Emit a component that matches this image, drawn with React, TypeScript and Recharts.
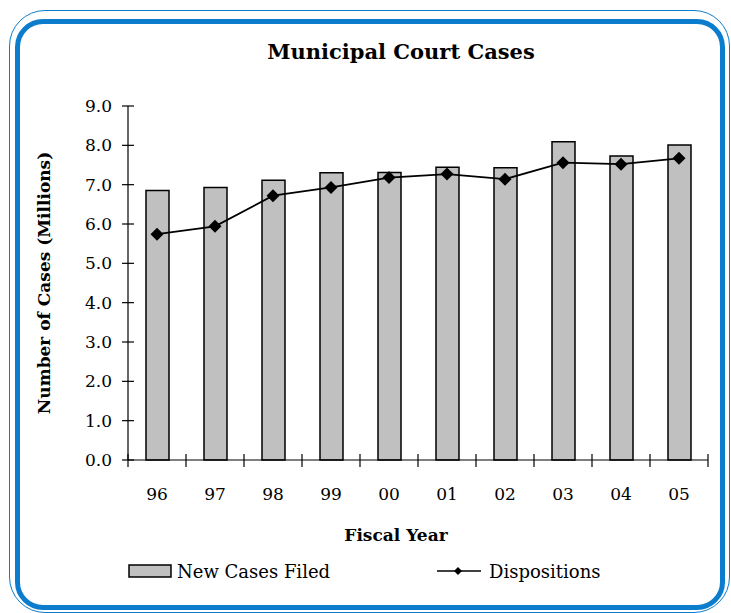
import { ComposedChart, Bar, Line, XAxis, YAxis, Label } from "recharts";

const years = ["96", "97", "98", "99", "00", "01", "02", "03", "04", "05"];
const newCasesFiled = [6.85, 6.93, 7.11, 7.3, 7.31, 7.44, 7.43, 8.09, 7.73, 8.01];
const dispositions = [5.74, 5.94, 6.72, 6.93, 7.18, 7.27, 7.14, 7.56, 7.52, 7.67];
const yTicks = [0, 1, 2, 3, 4, 5, 6, 7, 8, 9];

const data = years.map((year, i) => ({
  year,
  filed: newCasesFiled[i],
  disp: dispositions[i],
}));

const FONT = "'DejaVu Serif', 'Liberation Serif', serif";
const BLUE = "#0b7dcc";

function Diamond(props: any) {
  const { cx, cy } = props;
  if (cx == null || cy == null) return null;
  const r = 6.5;
  return (
    <polygon
      points={`${cx},${cy - r} ${cx + r},${cy} ${cx},${cy + r} ${cx - r},${cy}`}
      fill="#000"
    />
  );
}

// category labels sit in the band, tick marks go on the band edges
function YearTick(props: any) {
  const { x, y, width, index, visibleTicksCount, payload } = props;
  const half = width / visibleTicksCount / 2;
  return (
    <g>
      <line x1={x - half} x2={x - half} y1={y - 6} y2={y + 7} stroke="#000" strokeWidth={1.2} />
      {index === visibleTicksCount - 1 && (
        <line x1={x + half} x2={x + half} y1={y - 6} y2={y + 7} stroke="#000" strokeWidth={1.2} />
      )}
      <text x={x} y={y + 40} textAnchor="middle" fontSize={17} fontFamily={FONT} fill="#000">
        {payload.value}
      </text>
    </g>
  );
}

// ticks cross the axis line like the original
function ValueTick(props: any) {
  const { x, y, payload } = props;
  return (
    <g>
      <line x1={x + 10} x2={x + 22} y1={y} y2={y} stroke="#000" strokeWidth={1.2} />
      <text x={x} y={y} dy={6} textAnchor="end" fontSize={17} fontFamily={FONT} fill="#000">
        {payload.value.toFixed(1)}
      </text>
    </g>
  );
}

export default function App() {
  return (
    <div style={{ position: "absolute", left: 0, top: 0, width: 731, height: 613, background: "#fff", overflow: "hidden" }}>
      <div
        style={{
          position: "absolute",
          left: 8.5,
          top: 9.5,
          width: 721.5,
          height: 603,
          border: `1.5px solid ${BLUE}`,
          borderRadius: 36,
          boxSizing: "border-box",
        }}
      />
      <div
        style={{
          position: "absolute",
          left: 15,
          top: 19,
          width: 709.5,
          height: 591,
          border: `5px solid ${BLUE}`,
          borderRadius: 28,
          boxSizing: "border-box",
        }}
      />
      <div
        style={{
          position: "absolute",
          left: 0,
          width: 802,
          top: 39,
          textAlign: "center",
          fontFamily: FONT,
          fontWeight: "bold",
          fontSize: 21,
        }}
      >
        Municipal Court Cases
      </div>
      <div style={{ position: "absolute", left: 0, top: 0 }}>
        <ComposedChart
          width={731}
          height={613}
          data={data}
          margin={{ top: 106, right: 23, bottom: 93, left: 0 }}
        >
          <XAxis
            xAxisId="top"
            orientation="top"
            dataKey="year"
            height={0}
            tick={false}
            tickLine={false}
            axisLine={{ stroke: "#8c8c8c", strokeWidth: 1.2 }}
          />
          <YAxis
            yAxisId="right"
            orientation="right"
            width={0}
            domain={[0, 9]}
            tick={false}
            tickLine={false}
            axisLine={{ stroke: "#8c8c8c", strokeWidth: 1.2 }}
          />
          <XAxis
            dataKey="year"
            height={60}
            tickLine={false}
            tickSize={0}
            tickMargin={0}
            interval={0}
            axisLine={{ stroke: "#000", strokeWidth: 1.2 }}
            tick={<YearTick />}
          >
            <Label
              content={() => (
                <text x={396} y={541} textAnchor="middle" fontSize={17} fontWeight="bold" fontFamily={FONT} fill="#000">
                  Fiscal Year
                </text>
              )}
            />
          </XAxis>
          <YAxis
            width={128}
            domain={[0, 9]}
            ticks={yTicks}
            interval={0}
            tickLine={false}
            tickSize={7}
            tickMargin={9}
            axisLine={{ stroke: "#000", strokeWidth: 1.2 }}
            tick={<ValueTick />}
          >
            <Label
              content={() => (
                <text
                  x={0}
                  y={0}
                  transform="translate(50,283) rotate(-90)"
                  textAnchor="middle"
                  fontSize={17}
                  fontWeight="bold"
                  fontFamily={FONT}
                  fill="#000"
                >
                  Number of Cases (Millions)
                </text>
              )}
            />
          </YAxis>
          <Bar
            dataKey="filed"
            name="New Cases Filed"
            fill="#c0c0c0"
            stroke="#000"
            strokeWidth={1.5}
            barSize={23}
            isAnimationActive={false}
          />
          <Line
            dataKey="disp"
            name="Dispositions"
            type="linear"
            stroke="#000"
            strokeWidth={1.8}
            dot={<Diamond />}
            activeDot={false}
            isAnimationActive={false}
          />
        </ComposedChart>
      </div>
      <div
        style={{
          position: "absolute",
          left: 128,
          top: 558,
          display: "flex",
          alignItems: "center",
          fontFamily: FONT,
          fontSize: 18,
          height: 26,
        }}
      >
        <svg width={46} height={14} style={{ marginRight: 3 }}>
          <rect x={1} y={1} width={42} height={12} fill="#c0c0c0" stroke="#000" strokeWidth={1.5} />
        </svg>
        <span>New Cases Filed</span>
        <svg width={48} height={14} style={{ marginLeft: 107, marginRight: 4 }}>
          <line x1={0} x2={44} y1={7} y2={7} stroke="#000" strokeWidth={1.5} />
          <polygon points="21,3 25,7 21,11 17,7" fill="#000" />
        </svg>
        <span>Dispositions</span>
      </div>
    </div>
  );
}
